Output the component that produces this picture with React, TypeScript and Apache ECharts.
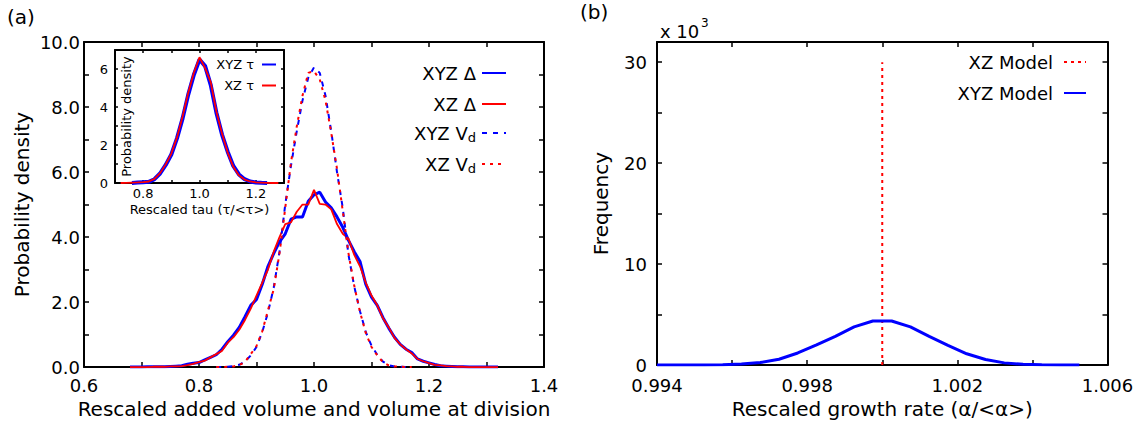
import React, { useEffect, useRef } from "react";
import * as echarts from "echarts";

const FONT = "DejaVu Sans";

// ---------- panel (a): main distributions ----------
const solidX = [
  0.68, 0.69, 0.7, 0.71, 0.72, 0.73, 0.74, 0.75, 0.76, 0.77, 0.78, 0.79, 0.8, 0.81, 0.82, 0.83, 0.84,
  0.85, 0.86, 0.87, 0.88, 0.89, 0.9, 0.91, 0.92, 0.93, 0.94, 0.95, 0.96, 0.97, 0.98, 0.99, 1.0, 1.01,
  1.02, 1.03, 1.04, 1.05, 1.06, 1.07, 1.08, 1.09, 1.1, 1.11, 1.12, 1.13, 1.14, 1.15, 1.16, 1.17, 1.18,
  1.19, 1.2, 1.21, 1.22, 1.23, 1.24, 1.25, 1.26, 1.27, 1.28, 1.29, 1.3, 1.31, 1.32,
];
const xyzDelta = [
  0, 0, 0, 0.01, 0.01, 0.01, 0.01, 0.02, 0.03, 0.04, 0.09, 0.12, 0.14, 0.22, 0.3, 0.38, 0.55,
  0.78, 0.98, 1.22, 1.55, 1.9, 2.08, 2.55, 3.1, 3.5, 3.85, 4.1, 4.55, 4.62, 4.62, 5.1, 5.3, 5.38,
  5.08, 4.9, 4.62, 4.3, 3.9, 3.55, 3.25, 2.55, 2.15, 1.9, 1.52, 1.2, 0.92, 0.7, 0.55, 0.45, 0.25,
  0.18, 0.13, 0.08, 0.04, 0.03, 0.02, 0.01, 0.01, 0, 0, 0, 0, 0, 0,
];
const xzDelta = [
  0, 0, 0, 0, 0.01, 0.01, 0.01, 0.02, 0.02, 0.03, 0.06, 0.1, 0.15, 0.2, 0.3, 0.4, 0.5,
  0.75, 0.92, 1.15, 1.45, 1.8, 2.2, 2.6, 3.0, 3.55, 4.0, 4.4, 4.45, 4.78, 5.0, 5.0, 5.45, 5.02,
  5.0, 4.85, 4.4, 4.1, 3.95, 3.45, 3.1, 2.6, 2.2, 1.9, 1.5, 1.22, 0.9, 0.7, 0.55, 0.42, 0.25,
  0.18, 0.12, 0.07, 0.05, 0.03, 0.02, 0.01, 0.01, 0, 0, 0, 0, 0, 0,
];
const dashX = [
  0.83, 0.84, 0.85, 0.86, 0.87, 0.88, 0.89, 0.9, 0.91, 0.92, 0.93, 0.94, 0.95, 0.96, 0.97, 0.98,
  0.99, 1.0, 1.01, 1.02, 1.03, 1.04, 1.05, 1.06, 1.07, 1.08, 1.09, 1.1, 1.11, 1.12, 1.13, 1.14,
  1.15, 1.16, 1.17,
];
const xyzVd = [
  0, 0, 0.01, 0.03, 0.07, 0.17, 0.36, 0.62, 1.08, 1.68, 2.45, 3.55, 5.0, 6.2, 7.25, 8.2,
  8.9, 9.22, 9.05, 8.35, 7.25, 6.0, 4.9, 3.45, 2.48, 1.72, 1.08, 0.66, 0.38, 0.17, 0.06, 0.02,
  0.01, 0, 0,
];
const xzVd = [
  0, 0, 0.01, 0.02, 0.06, 0.16, 0.4, 0.65, 1.1, 1.75, 2.4, 3.5, 4.9, 6.3, 7.4, 8.35,
  9.05, 9.1, 8.85, 8.2, 7.2, 6.1, 4.8, 3.5, 2.5, 1.7, 1.05, 0.62, 0.36, 0.15, 0.05, 0.02,
  0.01, 0, 0,
];

// ---------- panel (a) inset: rescaled tau ----------
const tauXyzX = [
  0.76, 0.78, 0.8, 0.82, 0.84, 0.86, 0.88, 0.9, 0.92, 0.94, 0.96, 0.98, 1.0, 1.02, 1.04, 1.06,
  1.08, 1.1, 1.12, 1.14, 1.16, 1.18, 1.2, 1.22, 1.24,
];
const tauXyz = [
  0, 0.02, 0.04, 0.06, 0.2, 0.5, 0.95, 1.5, 2.35, 3.4, 4.65, 5.7, 6.5, 6.15, 5.15, 3.7,
  2.55, 1.65, 0.9, 0.45, 0.2, 0.08, 0.03, 0.01, 0,
];
const tauXzX = [
  0.72, 0.74, 0.76, 0.78, 0.8, 0.82, 0.84, 0.86, 0.88, 0.9, 0.92, 0.94, 0.96, 0.98, 1.0, 1.02,
  1.04, 1.06, 1.08, 1.1, 1.12, 1.14, 1.16, 1.18, 1.2, 1.22, 1.24, 1.26, 1.28,
];
const tauXz = [
  0, 0.01, 0.02, 0.03, 0.05, 0.08, 0.22, 0.52, 0.98, 1.55, 2.4, 3.5, 4.75, 5.8, 6.62, 6.05,
  5.3, 3.75, 2.6, 1.6, 0.85, 0.4, 0.18, 0.08, 0.03, 0.02, 0.01, 0, 0,
];

// ---------- panel (b): growth rate (frequency, x 10^3) ----------
const alphaX = [
  0.994, 0.99425, 0.99475, 0.99525, 0.99575, 0.99625, 0.99675, 0.99725, 0.99775, 0.99825, 0.99875,
  0.99925, 0.99975, 1.00025, 1.00075, 1.00125, 1.00175, 1.00225, 1.00275, 1.00325, 1.00375, 1.00425,
  1.00475, 1.00525,
];
const xyzModel = [
  0, 0, 0.005, 0.01, 0.04, 0.1, 0.25, 0.58, 1.2, 2.0, 2.85, 3.78, 4.37, 4.37, 3.78, 2.85, 1.95,
  1.12, 0.55, 0.22, 0.08, 0.03, 0.01, 0,
];
const xzModelX = [1.0, 1.0];
const xzModel = [0, 30];

const pairs = (xs: number[], ys: number[]) => xs.map((x, i) => [x, ys[i]]);

const BLUE = "#0000ff";
const RED = "#ff0000";

const axisLine = { show: true, onZero: false, lineStyle: { color: "#000", width: 2 } };
const tick = (len: number) => ({
  show: true,
  inside: true,
  length: len,
  lineStyle: { color: "#000", width: 1.5 },
});

export default function App() {
  const ref = useRef<HTMLDivElement>(null);

  useEffect(() => {
    if (!ref.current) return;
    const chart = echarts.init(ref.current, undefined, { renderer: "svg" });

    const labelStyle = (size: number, margin: number) => ({
      color: "#000",
      fontFamily: FONT,
      fontSize: size,
      margin,
    });

    const legendItem = (
      name: string,
      right: number,
      top: number,
      iw: number,
      ih: number,
      size: number,
      padRight: number,
      z: number
    ) => ({
      data: [name],
      orient: "vertical",
      align: "right",
      right,
      top,
      z,
      itemWidth: iw,
      itemHeight: ih,
      padding: 0,
      selectedMode: false,
      itemStyle: { opacity: 0 },
      formatter: (n: string) =>
        n.endsWith("Vd") ? `{n|${n.slice(0, -1)}}{s|d}` : `{n|${n}}`,
      textStyle: {
        color: "#000",
        fontFamily: FONT,
        fontSize: size,
        padding: [0, padRight, 0, 0],
        rich: {
          n: { fontFamily: FONT, fontSize: size, color: "#000" },
          s: { fontFamily: FONT, fontSize: 13, color: "#000", padding: [9, 0, 0, 0] },
        },
      },
    });

    const option: any = {
      animation: false,
      backgroundColor: "#fff",
      grid: [
        { left: 84, top: 42, width: 460, height: 326 },
        { left: 657, top: 42, width: 450.5, height: 327 },
        {
          left: 115,
          top: 50,
          width: 169,
          height: 133,
          show: true,
          backgroundColor: "#fff",
          borderWidth: 0,
          z: 5,
        },
      ],
      xAxis: [
        {
          gridIndex: 0,
          type: "value",
          position: "bottom",
          min: 0.6,
          max: 1.4,
          interval: 0.1,
          axisLine,
          axisTick: tick(5),
          splitLine: { show: false },
          axisLabel: {
            ...labelStyle(18, 9),
            formatter: (v: number) => {
              const k = Math.round(v * 10);
              return k % 2 === 0 ? (k / 10).toFixed(1) : "";
            },
          },
          name: "Rescaled added volume and volume at division",
          nameLocation: "middle",
          nameGap: 21,
          nameTextStyle: { color: "#000", fontFamily: FONT, fontSize: 20 },
        },
        {
          gridIndex: 0,
          type: "value",
          position: "top",
          min: 0.6,
          max: 1.4,
          interval: 0.1,
          axisLine,
          axisTick: tick(5),
          splitLine: { show: false },
          axisLabel: { show: false },
        },
        {
          gridIndex: 1,
          type: "value",
          position: "bottom",
          min: 0.994,
          max: 1.006,
          interval: 0.002,
          axisLine,
          axisTick: tick(5),
          splitLine: { show: false },
          axisLabel: {
            ...labelStyle(18, 11),
            formatter: (v: number) => {
              const k = Math.round(v * 1000);
              return (k - 994) % 4 === 0 ? (k / 1000).toFixed(3) : "";
            },
          },
          name: "Rescaled growth rate (α/<α>)",
          nameLocation: "middle",
          nameGap: 22,
          nameTextStyle: { color: "#000", fontFamily: FONT, fontSize: 20 },
        },
        {
          gridIndex: 1,
          type: "value",
          position: "top",
          min: 0.994,
          max: 1.006,
          interval: 0.002,
          axisLine,
          axisTick: tick(5),
          splitLine: { show: false },
          axisLabel: { show: false },
        },
        {
          gridIndex: 2,
          type: "value",
          position: "bottom",
          min: 0.7,
          max: 1.3,
          interval: 0.1,
          axisLine,
          axisTick: tick(3),
          splitLine: { show: false },
          axisLabel: {
            ...labelStyle(13, 4),
            formatter: (v: number) => {
              const k = Math.round(v * 10);
              return k % 2 === 0 && k > 7 && k < 13 ? (k / 10).toFixed(1) : "";
            },
          },
          name: "Rescaled tau (τ/<τ>)",
          nameLocation: "middle",
          nameGap: 20,
          nameTextStyle: { color: "#000", fontFamily: FONT, fontSize: 13 },
          z: 6,
        },
        {
          gridIndex: 2,
          type: "value",
          position: "top",
          min: 0.7,
          max: 1.3,
          interval: 0.1,
          axisLine,
          axisTick: tick(3),
          splitLine: { show: false },
          axisLabel: { show: false },
          z: 6,
        },
      ],
      yAxis: [
        {
          gridIndex: 0,
          type: "value",
          position: "left",
          min: 0,
          max: 10,
          interval: 1,
          axisLine,
          axisTick: tick(5),
          splitLine: { show: false },
          axisLabel: {
            ...labelStyle(18, 4),
            formatter: (v: number) => (v % 2 === 0 ? v.toFixed(1) : ""),
          },
          name: "Probability density",
          nameLocation: "middle",
          nameGap: 52,
          nameTextStyle: { color: "#000", fontFamily: FONT, fontSize: 20 },
        },
        {
          gridIndex: 0,
          type: "value",
          position: "right",
          min: 0,
          max: 10,
          interval: 1,
          axisLine,
          axisTick: tick(5),
          splitLine: { show: false },
          axisLabel: { show: false },
        },
        {
          gridIndex: 1,
          type: "value",
          position: "left",
          min: 0,
          max: 32,
          interval: 5,
          axisLine,
          axisTick: tick(5),
          splitLine: { show: false },
          axisLabel: {
            ...labelStyle(18, 10),
            formatter: (v: number) => (v % 10 === 0 ? String(v) : ""),
          },
          name: "Frequency",
          nameLocation: "middle",
          nameGap: 46,
          nameTextStyle: { color: "#000", fontFamily: FONT, fontSize: 20 },
        },
        {
          gridIndex: 1,
          type: "value",
          position: "right",
          min: 0,
          max: 32,
          interval: 5,
          axisLine,
          axisTick: tick(5),
          splitLine: { show: false },
          axisLabel: { show: false },
        },
        {
          gridIndex: 2,
          type: "value",
          position: "left",
          min: 0,
          max: 7,
          interval: 1,
          axisLine,
          axisTick: tick(3),
          splitLine: { show: false },
          axisLabel: {
            ...labelStyle(13, 7),
            formatter: (v: number) => (v % 2 === 0 && v <= 6 ? String(v) : ""),
          },
          name: "Probability density",
          nameLocation: "middle",
          nameGap: -18,
          nameTextStyle: { color: "#000", fontFamily: FONT, fontSize: 13 },
          z: 6,
        },
        {
          gridIndex: 2,
          type: "value",
          position: "right",
          min: 0,
          max: 7,
          interval: 1,
          axisLine,
          axisTick: tick(3),
          splitLine: { show: false },
          axisLabel: { show: false },
          z: 6,
        },
      ],
      legend: [
        legendItem("XYZ Δ", 635, 64, 24, 20, 18, 1, 4),
        legendItem("XZ Δ", 635, 95, 24, 20, 18, 1, 4),
        legendItem("XYZ Vd", 635, 124, 24, 20, 18, 1, 4),
        legendItem("XZ Vd", 635, 155, 24, 20, 18, 1, 4),
        legendItem("XYZ τ", 865, 58, 14, 14, 13, 3, 10),
        legendItem("XZ τ", 865, 79, 14, 14, 13, 3, 10),
        legendItem("XZ Model", 55, 53, 22, 20, 18, 6, 4),
        legendItem("XYZ Model", 55, 84, 22, 20, 18, 6, 4),
      ],
      series: [
        {
          name: "XYZ Δ",
          type: "line",
          xAxisIndex: 0,
          yAxisIndex: 0,
          symbol: "none",
          data: pairs(solidX, xyzDelta),
          lineStyle: { color: BLUE, width: 3 },
          itemStyle: { color: BLUE },
        },
        {
          name: "XZ Δ",
          type: "line",
          xAxisIndex: 0,
          yAxisIndex: 0,
          symbol: "none",
          data: pairs(solidX, xzDelta),
          lineStyle: { color: RED, width: 1.8 },
          itemStyle: { color: RED },
        },
        {
          name: "XYZ Vd",
          type: "line",
          xAxisIndex: 0,
          yAxisIndex: 0,
          symbol: "none",
          data: pairs(dashX, xyzVd),
          lineStyle: { color: BLUE, width: 2, type: [5, 6] },
          itemStyle: { color: BLUE },
        },
        {
          name: "XZ Vd",
          type: "line",
          xAxisIndex: 0,
          yAxisIndex: 0,
          symbol: "none",
          data: pairs(dashX, xzVd),
          lineStyle: { color: RED, width: 2, type: [3, 5] },
          itemStyle: { color: RED },
        },
        {
          name: "XYZ τ",
          type: "line",
          xAxisIndex: 4,
          yAxisIndex: 4,
          symbol: "none",
          z: 7,
          data: pairs(tauXyzX, tauXyz),
          lineStyle: { color: BLUE, width: 4 },
          itemStyle: { color: BLUE },
        },
        {
          name: "XZ τ",
          type: "line",
          xAxisIndex: 4,
          yAxisIndex: 4,
          symbol: "none",
          z: 7,
          data: pairs(tauXzX, tauXz),
          lineStyle: { color: RED, width: 1.8 },
          itemStyle: { color: RED },
        },
        {
          name: "XZ Model",
          type: "line",
          xAxisIndex: 2,
          yAxisIndex: 2,
          symbol: "none",
          data: pairs(xzModelX, xzModel),
          lineStyle: { color: RED, width: 2, type: [3, 4] },
          itemStyle: { color: RED },
        },
        {
          name: "XYZ Model",
          type: "line",
          xAxisIndex: 2,
          yAxisIndex: 2,
          symbol: "none",
          data: pairs(alphaX, xyzModel),
          lineStyle: { color: BLUE, width: 3 },
          itemStyle: { color: BLUE },
        },
      ],
      graphic: [
        {
          type: "text",
          left: 7,
          top: 7,
          style: { text: "(a)", fontFamily: FONT, fontSize: 20, fill: "#000" },
        },
        {
          type: "text",
          left: 580,
          top: 2,
          style: { text: "(b)", fontFamily: FONT, fontSize: 20, fill: "#000" },
        },
        {
          type: "text",
          left: 660,
          top: 22,
          style: { text: "x 10", fontFamily: FONT, fontSize: 18, fill: "#000" },
        },
        {
          type: "text",
          left: 701,
          top: 17,
          style: { text: "3", fontFamily: FONT, fontSize: 12, fill: "#000" },
        },
      ],
    };

    chart.setOption(option);
    return () => chart.dispose();
  }, []);

  return (
    <div
      ref={ref}
      style={{ position: "absolute", left: 0, top: 0, width: 1142, height: 424, background: "#fff" }}
    />
  );
}
